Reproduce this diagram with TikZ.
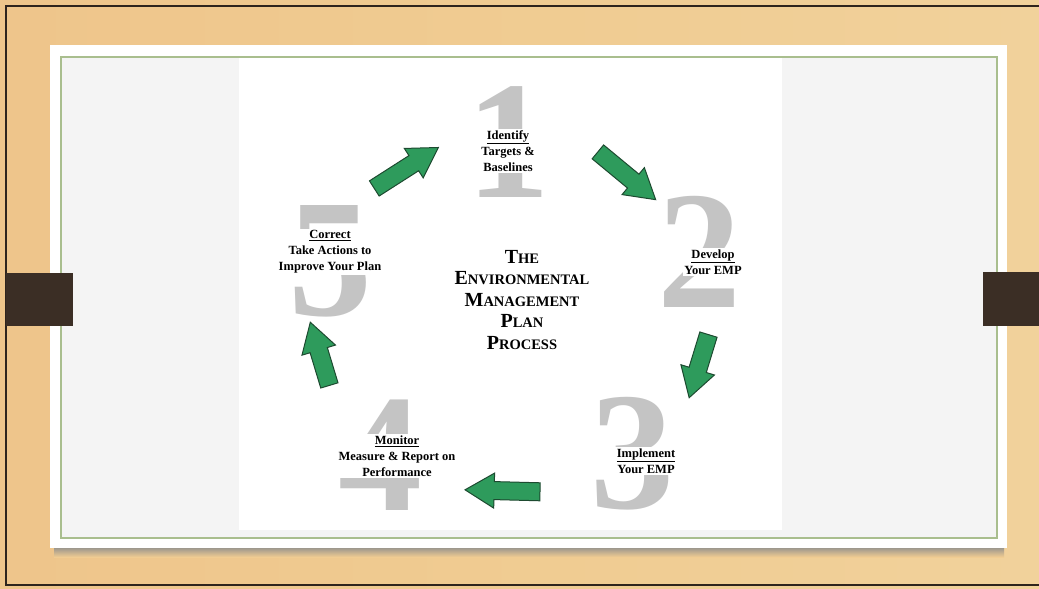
\documentclass[tikz,border=0pt]{standalone}
\usepackage{fontspec}
\setmainfont{Liberation Serif}
\usetikzlibrary{shapes.arrows}
\definecolor{wood}{HTML}{F0CC92}
\definecolor{woodlight}{HTML}{F4D9A6}
\definecolor{woodorange}{HTML}{EDBE84}
\definecolor{tabbrown}{HTML}{3B2E25}
\definecolor{frameline}{HTML}{2E241D}
\definecolor{panelgray}{HTML}{F4F4F4}
\definecolor{greenline}{HTML}{A9BE8E}
\definecolor{numgray}{HTML}{C4C4C4}
\definecolor{arrowgreen}{HTML}{2E9B5C}
\definecolor{arrowedge}{HTML}{1D4A30}
\newcommand{\scbig}[1]{{\fontsize{20}{21.5}\selectfont #1}}
\newcommand{\scsmall}[1]{{\fontsize{14.5}{21.5}\selectfont #1}}
\begin{document}
\begin{tikzpicture}[x=1pt,y=-1pt,
  num/.style={font=\fontsize{168}{168}\selectfont\bfseries, text=numgray, inner sep=0pt, anchor=base},
  lab/.style={font=\fontsize{12.5}{16}\selectfont\bfseries, align=center, fill=white, inner sep=1.5pt},
  title/.style={font=\fontsize{14.5}{21.5}\selectfont\bfseries, align=center, inner sep=0pt},
  garrow/.style={single arrow, draw=arrowedge, fill=arrowgreen, line width=1pt,
    inner xsep=0pt, inner ysep=8.5pt, single arrow head extend=8.5pt, single arrow tip angle=62}
]
\useasboundingbox (0,0) rectangle (1039,589);
% wood background
\shade[left color=woodorange, right color=woodlight, middle color=wood] (0,0) rectangle (1039,589);
\fill[wood, opacity=0.5] (0,0) rectangle (1039,589);
% outer frame lines
\draw[frameline, line width=2pt] (1039,6) -- (6,6) -- (6,585) -- (1039,585);
% panel shadow
\shade[top color=black!45, bottom color=wood] (54,546) rectangle (1004,557);
% panel
\fill[white] (50,45) rectangle (1007,548);
\draw[greenline, fill=panelgray, line width=1.2pt] (61,57) rectangle (997,538);
% central picture
\fill[white] (239,58) rectangle (782,530);
% tabs
\fill[tabbrown] (6,273) rectangle (73,326);
\fill[tabbrown] (983,272) rectangle (1039,326);
% numerals
\node[num] (n1) at (508,197) {1};
\node[num] (n2) at (699,307) {2};
\node[num] (n3) at (632,508) {3};
\node[num] (n4) at (380,510) {4};
\node[num] (n5) at (330,315) {5};
% labels
\node[lab] (l1) at (508,151) {\underline{Identify}\\Targets \&\\Baselines};
\node[lab] (l2) at (713,262) {\underline{Develop}\\Your EMP};
\node[lab] (l3) at (646,461) {\underline{Implement}\\Your EMP};
\node[lab] (l4) at (397,456) {\underline{Monitor}\\Measure \& Report on\\Performance};
\node[lab] (l5) at (330,252) {\underline{Correct}\\Take Actions to\\Improve Your Plan};
% title
\node[title] (t) at (522,300) {%
  \scbig{T}\scsmall{HE}\\
  \scbig{E}\scsmall{NVIRONMENTAL}\\
  \scbig{M}\scsmall{ANAGEMENT}\\
  \scbig{P}\scsmall{LAN}\\
  \scbig{P}\scsmall{ROCESS}};
% arrows
\node[garrow, rotate=-39.6, minimum height=75pt] (a12) at (621,171) {};
\node[garrow, rotate=-107, minimum height=66pt] (a23) at (701,359) {};
\node[garrow, rotate=178.5, minimum height=75pt] (a34) at (510,491) {};
\node[garrow, rotate=106.8, minimum height=66pt] (a45) at (322,361) {};
\node[garrow, rotate=32.6, minimum height=76pt] (a51) at (400,172) {};
\end{tikzpicture}
\end{document}
